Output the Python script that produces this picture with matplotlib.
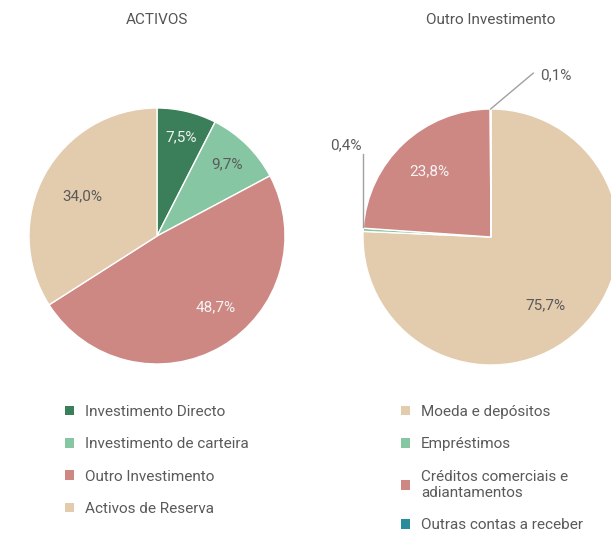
import numpy as np
import matplotlib
matplotlib.use("Agg")
import matplotlib.pyplot as plt
from matplotlib.patches import Patch
from matplotlib import font_manager

names = {f.name for f in font_manager.fontManager.ttflist}
FONT = "Liberation Sans Narrow" if "Liberation Sans Narrow" in names else "Roboto"
plt.rcParams['font.family'] = [FONT, 'DejaVu Sans']

# ---- data ----
left_title = "ACTIVOS"
left_labels = ["Investimento Directo", "Investimento de carteira",
               "Outro Investimento", "Activos de Reserva"]
left_values = [7.5, 9.7, 48.7, 34.0]

right_title = "Outro Investimento"
right_labels = ["Moeda e depósitos", "Empréstimos",
                "Créditos comerciais e\nadiantamentos", "Outras contas a receber"]
right_values = [75.7, 0.4, 23.8, 0.1]

left_colors = ["#3a7f59", "#86c6a2", "#cd8884", "#e3cbad"]
right_colors = ["#e3cbad", "#86c6a2", "#cd8884", "#2a8b9b"]
left_txtcol = ["#f2f2f2", "#5a5a5a", "#f5f5f5", "#5a5a5a"]
right_txtcol = ["#5a5a5a", None, "#f5f5f5", None]

FS = 11
W, H = 611, 536
fig = plt.figure(figsize=(W / 100, H / 100), dpi=100)
R = 128


def pie_axes(cx, cy):
    ax = fig.add_axes([(cx - R) / W, 1 - (cy + R) / H, 2 * R / W, 2 * R / H])
    ax.axis('off')
    return ax


def fmt(v):
    return f"{v:.1f}%".replace(".", ",")


def draw_pie(ax, values, colors, txtcols, radii, shifts):
    wedges, _ = ax.pie(values, colors=colors, startangle=90, counterclock=False,
                       radius=1, wedgeprops=dict(edgecolor="white", linewidth=1))
    ax.set_xlim(-1, 1)
    ax.set_ylim(-1, 1)
    ax.set_aspect('equal')
    for w, v, tc, r, s in zip(wedges, values, txtcols, radii, shifts):
        if tc is None:
            continue
        mid = np.deg2rad((w.theta1 + w.theta2) / 2 + s)
        ax.text(r * np.cos(mid), r * np.sin(mid), fmt(v), ha='center', va='center',
                color=tc, fontsize=FS)
    return wedges


axL = pie_axes(157, 236)
draw_pie(axL, left_values, left_colors, left_txtcol,
         [0.79, 0.78, 0.72, 0.66], [0, 0, 9, 1])

axR = pie_axes(491, 237)
wR = draw_pie(axR, right_values, right_colors, right_txtcol,
              [0.68, 0, 0.70, 0], [-5, 0, 0, 0])

# callouts for tiny slices
lc = "#a0a0a0"
w = wR[1]
a = np.deg2rad((w.theta1 + w.theta2) / 2)
x0, y0 = np.cos(a), np.sin(a)
axR.plot([x0, x0], [y0 + 0.02, 0.65], color=lc, lw=1, clip_on=False)
axR.text(x0 - 0.01, 0.66, fmt(right_values[1]), ha='right', va='bottom',
         color="#5a5a5a", fontsize=FS)
w = wR[3]
a = np.deg2rad((w.theta1 + w.theta2) / 2)
x0, y0 = np.cos(a), np.sin(a)
axR.plot([x0, 0.33], [y0, 1.28], color=lc, lw=1, clip_on=False)
axR.text(0.38, 1.26, fmt(right_values[3]), ha='left', va='center',
         color="#5a5a5a", fontsize=FS)

# titles
fig.text(157 / W, 1 - 20 / H, left_title, ha='center', va='center',
         fontsize=FS, color="#555555")
fig.text(491 / W, 1 - 20 / H, right_title, ha='center', va='center',
         fontsize=FS, color="#555555")


# legends
def legend(labels, colors, x, y):
    handles = [Patch(facecolor=c, edgecolor='none') for c in colors]
    fig.legend(handles, labels, loc='upper left', bbox_to_anchor=(x / W, 1 - y / H),
               frameon=False, fontsize=FS, labelcolor="#5a5a5a",
               handlelength=0.6, handleheight=0.6, handletextpad=0.7,
               labelspacing=1.2, borderaxespad=0, borderpad=0)


legend(left_labels, left_colors, 65, 405)
legend(right_labels, right_colors, 401, 405)

fig.savefig("out.png", dpi=100, facecolor="white")
